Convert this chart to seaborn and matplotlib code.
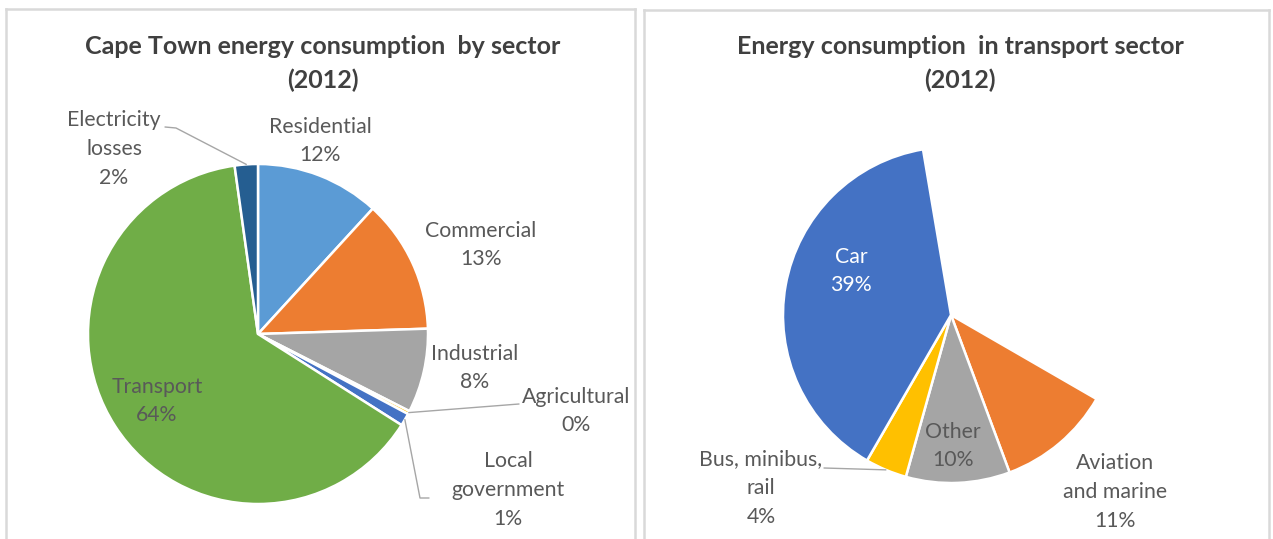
import numpy as np
import matplotlib
matplotlib.use("Agg")
import matplotlib.pyplot as plt
import seaborn as sns

# Cape Town energy consumption by sector, 2012 (% of total)
sectors = ["Residential", "Commercial", "Industrial", "Agricultural",
           "Local\ngovernment", "Transport", "Electricity\nlosses"]
sector_share = [11.8, 12.7, 8.0, 0.3, 1.2, 63.8, 2.2]
sector_colors = ["#5B9BD5", "#ED7D31", "#A5A5A5", "#FFC000",
                 "#4472C4", "#70AD47", "#255E91"]

# Transport sector split, 2012 (% of total city consumption)
modes = ["Aviation\nand marine", "Other", "Bus, minibus,\nrail", "Car"]
mode_share = [11, 10, 4, 39]
mode_colors = ["#ED7D31", "#A5A5A5", "#FFC000", "#4472C4"]

W, H = 1273, 539
sns.set_theme(style="white")
plt.rcParams["font.family"] = ["Lato", "DejaVu Sans"]

TITLE_C = "#404040"
LABEL_C = "#595959"
LEADER_C = "#A6A6A6"
BORDER_C = "#D9D9D9"

fig = plt.figure(figsize=(W / 100, H / 100), dpi=100)


def panel(x0, x1, top):
    ax = fig.add_axes([x0 / W, 0, (x1 - x0) / W, (H - top) / H])
    return ax


def finish(ax, x0, x1, top):
    ax.set_xlim(x0, x1)
    ax.set_ylim(0, H - top)
    ax.set_aspect("auto")
    ax.set_frame_on(True)
    ax.set_xticks([])
    ax.set_yticks([])
    for side in ["left", "right", "top"]:
        ax.spines[side].set_visible(True)
        ax.spines[side].set_color(BORDER_C)
        ax.spines[side].set_linewidth(1.8)
    ax.spines["bottom"].set_visible(False)


def P(x, y):
    return x, H - y


def anchor(cx, cy, r, start_deg, shares, idx, total=100.0):
    """Point on the rim at the middle of wedge idx (angles clockwise from top)."""
    before = sum(shares[:idx]) / total * 360.0
    mid = start_deg + before + shares[idx] / total * 360.0 / 2
    a = np.radians(mid)
    return cx + r * np.sin(a), cy - r * np.cos(a)


def pct(v):
    return f"{round(v):.0f}%"


lab_kw = dict(ha="center", va="center", fontsize=15.3, color=LABEL_C, linespacing=1.55)
title_kw = dict(ha="center", va="center", fontsize=18, fontweight="bold", color=TITLE_C)
wedge_kw = dict(edgecolor="white", linewidth=1.8)

# ---------------- left panel ----------------
L0, L1, LT = 6, 635, 9
axL = panel(L0, L1, LT)
cxL, cyL, rL = 258, 334, 170
axL.pie(sector_share, colors=sector_colors, startangle=90, counterclock=False,
        center=P(cxL, cyL), radius=rL, wedgeprops=wedge_kw)
finish(axL, L0, L1, LT)

axL.text(*P(323, 46), "Cape Town energy consumption  by sector", **title_kw)
axL.text(*P(323, 80), "(2012)", **title_kw)

label_pos_L = {
    "Residential": (320, 141),
    "Commercial": (481, 245),
    "Industrial": (475, 368),
    "Agricultural": (576, 411),
    "Local\ngovernment": (508, 490),
    "Transport": (157, 401),
    "Electricity\nlosses": (114, 149),
}
for name, v in zip(sectors, sector_share):
    x, y = label_pos_L[name]
    axL.text(*P(x, y), f"{name}\n{pct(v)}", **lab_kw)

# leader lines for the thin wedges
ax_e = anchor(cxL, cyL, rL, 0, sector_share, 6)
axL.plot(*zip(P(165, 127), P(176, 128), P(*ax_e)), color=LEADER_C, lw=1)
ax_a = anchor(cxL, cyL, rL, 0, sector_share, 3)
axL.plot(*zip(P(*ax_a), P(519, 404)), color=LEADER_C, lw=1)
ax_g = anchor(cxL, cyL, rL, 0, sector_share, 4)
axL.plot(*zip(P(*ax_g), P(420, 498), P(429, 498)), color=LEADER_C, lw=1)

# ---------------- right panel ----------------
R0, R1, RT = 644, 1269, 10
axR = panel(R0, R1, RT)
cxR, cyR, rR = 951, 315, 168
first_angle = 120  # clockwise from 12 o'clock
axR.pie([v / 100 for v in mode_share], colors=mode_colors, normalize=False,
        startangle=90 - first_angle, counterclock=False,
        center=P(cxR, cyR), radius=rR, wedgeprops=wedge_kw)
finish(axR, R0, R1, RT)

axR.text(*P(960, 46), "Energy consumption  in transport sector", **title_kw)
axR.text(*P(960, 80), "(2012)", **title_kw)

label_pos_R = {
    "Aviation\nand marine": (1115, 492),
    "Other": (953, 446),
    "Bus, minibus,\nrail": (761, 488),
    "Car": (851, 271),
}
for name, v in zip(modes, mode_share):
    x, y = label_pos_R[name]
    kw = dict(lab_kw)
    if name == "Car":
        kw["color"] = "white"
    axR.text(*P(x, y), f"{name}\n{pct(v)}", **kw)

ax_b = anchor(cxR, cyR, rR, first_angle, mode_share, 2)
axR.plot(*zip(P(824, 468), P(*ax_b)), color=LEADER_C, lw=1)

fig.savefig("out.png", dpi=100, facecolor="white")
